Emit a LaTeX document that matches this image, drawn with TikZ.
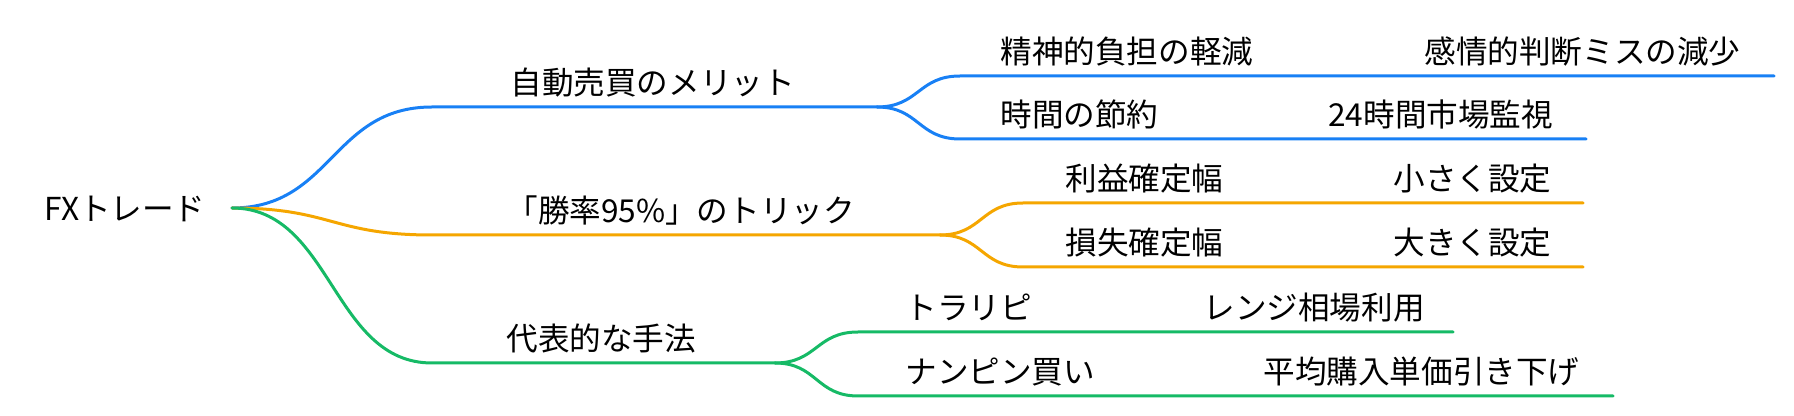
\documentclass[tikz,border=0pt]{standalone}
\usepackage{fontspec}
\setmainfont{Noto Sans CJK JP}

\definecolor{mmblue}{RGB}{24,128,245}
\definecolor{mmorange}{RGB}{245,166,0}
\definecolor{mmgreen}{RGB}{22,186,102}

\tikzset{
  topic/.style={inner sep=0pt, anchor=base west, font=\fontsize{15.8pt}{19pt}\selectfont},
  branch/.style={line width=1.5pt, line cap=round},
}

\begin{document}
\begin{tikzpicture}[x=0.5pt,y=-0.5pt]
\useasboundingbox (0,0) rectangle (1794,416);
% root
\node[topic] (fx) at (44,221) {FXトレード};
\coordinate (fx-e) at (232,208);
% first level
\node[topic] (auto) at (510,95) {自動売買のメリット};
\coordinate (auto-w) at (432,107);
\coordinate (auto-e) at (877,107);
\node[topic] (trick) at (506,223) {「勝率95\%」のトリック};
\coordinate (trick-w) at (432,235);
\coordinate (trick-e) at (940,235);
\node[topic] (shuho) at (506,351) {代表的な手法};
\coordinate (shuho-w) at (432,363);
\coordinate (shuho-e) at (775,363);
% second and third level
\node[topic] (seishin) at (1000,64) {精神的負担の軽減};
\node[topic] (kanjo) at (1424,64) {感情的判断ミスの減少};
\coordinate (seishin-w) at (960,76);
\coordinate (kanjo-e) at (1774,76);
\node[topic] (jikan) at (1000,127) {時間の節約};
\node[topic] (kanshi) at (1328,127) {24時間市場監視};
\coordinate (jikan-w) at (960,139);
\coordinate (kanshi-e) at (1586,139);
\node[topic] (rieki) at (1065,191) {利益確定幅};
\node[topic] (chiisaku) at (1393,191) {小さく設定};
\coordinate (rieki-w) at (1023,203);
\coordinate (chiisaku-e) at (1583,203);
\node[topic] (sonshitsu) at (1065,255) {損失確定幅};
\node[topic] (ookiku) at (1393,255) {大きく設定};
\coordinate (sonshitsu-w) at (1023,267);
\coordinate (ookiku-e) at (1583,267);
\node[topic] (torari) at (905,320) {トラリピ};
\node[topic] (range) at (1203,320) {レンジ相場利用};
\coordinate (torari-w) at (858,332);
\coordinate (range-e) at (1453,332);
\node[topic] (nanpin) at (905,384) {ナンピン買い};
\node[topic] (heikin) at (1263,384) {平均購入単価引き下げ};
\coordinate (nanpin-w) at (858,396);
\coordinate (heikin-e) at (1613,396);
% branches
\draw[branch,mmblue] (fx-e) .. controls +(100,0) and +(-100,0) .. (auto-w) -- (auto-e);
\draw[branch,mmblue] (auto-e) .. controls +(42,0) and +(-42,0) .. (seishin-w) -- (kanjo-e);
\draw[branch,mmblue] (auto-e) .. controls +(42,0) and +(-42,0) .. (jikan-w) -- (kanshi-e);
\draw[branch,mmorange] (fx-e) .. controls +(100,0) and +(-100,0) .. (trick-w) -- (trick-e);
\draw[branch,mmorange] (trick-e) .. controls +(42,0) and +(-42,0) .. (rieki-w) -- (chiisaku-e);
\draw[branch,mmorange] (trick-e) .. controls +(42,0) and +(-42,0) .. (sonshitsu-w) -- (ookiku-e);
\draw[branch,mmgreen] (fx-e) .. controls +(100,0) and +(-100,0) .. (shuho-w) -- (shuho-e);
\draw[branch,mmgreen] (shuho-e) .. controls +(42,0) and +(-42,0) .. (torari-w) -- (range-e);
\draw[branch,mmgreen] (shuho-e) .. controls +(42,0) and +(-42,0) .. (nanpin-w) -- (heikin-e);
\end{tikzpicture}
\end{document}
